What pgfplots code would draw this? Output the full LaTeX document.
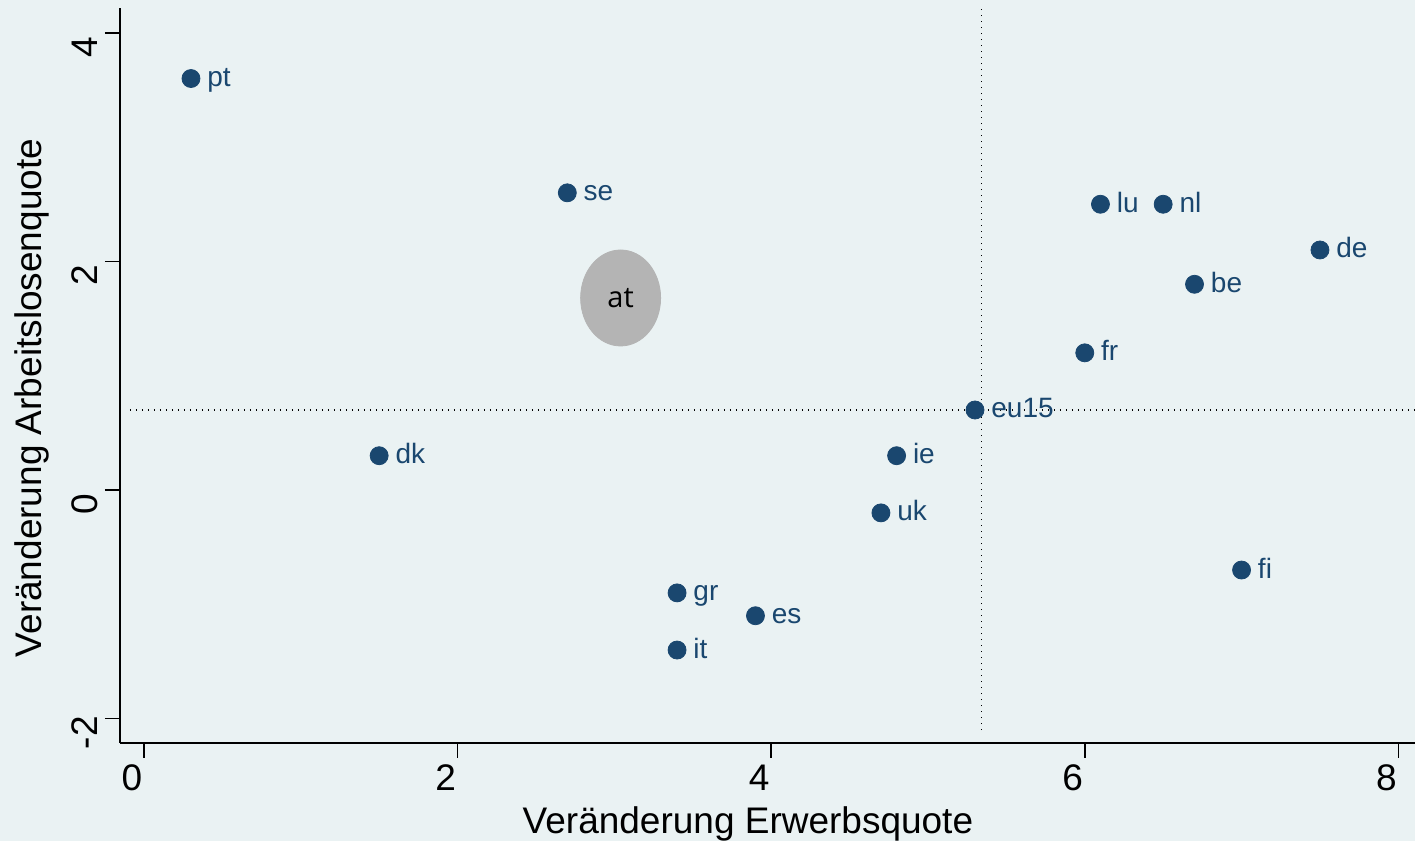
\documentclass[border=0pt]{standalone}
\usepackage{pgfplots}
\pgfplotsset{compat=1.18}
\usepackage{pgfplotstable}
\usepackage{fontspec}
\setmainfont{Liberation Sans}
\newfontfamily\atfont{Open Sans}
\usetikzlibrary{backgrounds}

\definecolor{bg}{RGB}{234,242,243}
\definecolor{stnavy}{RGB}{26,71,111}
\definecolor{atgray}{RGB}{180,180,180}

% Veraenderung Erwerbsquote (x) und Arbeitslosenquote (y)
\pgfplotstableread{
x    y     lab
0.3  3.6   pt
2.7  2.6   se
6.1  2.5   lu
6.5  2.5   nl
7.5  2.1   de
6.7  1.8   be
6.0  1.2   fr
5.3  0.7   eu15
1.5  0.3   dk
4.8  0.3   ie
4.7  -0.2  uk
7.0  -0.7  fi
3.4  -0.9  gr
3.9  -1.1  es
3.4  -1.4  it
}\laender

\begin{document}
\begin{tikzpicture}
\begin{axis}[
    x=78.4pt, y=57.15pt,
    xmin=-0.153, xmax=8.2,
    ymin=-2.213, ymax=4.217,
    axis x line=bottom, axis y line=left,
    axis line style={-, line width=0.9pt, black},
    tick align=outside,
    major tick length=7.5pt,
    tick style={line width=0.8pt, black},
    xtick={0,2,4,6,8}, ytick={-2,0,2,4},
    xticklabels={0,2,4,6,8}, yticklabels={-2,0,2,4},
    ticklabel style={font=\fontsize{18.5}{20}\selectfont},
    xticklabel style={xshift=-6pt},
    yticklabel style={yshift=-7pt, rotate=90, anchor=south},
    xlabel={Veränderung Erwerbsquote},
    ylabel={Veränderung Arbeitslosenquote},
    label style={font=\fontsize{18.5}{20}\selectfont},
    xlabel style={at={(axis cs:3.852,-3.001)}, anchor=base},
    ylabel style={at={(axis cs:-0.714,0.805)}, anchor=center, rotate=0},
    clip=false,
]
\coordinate (pgTL) at (axis cs:-0.918,4.287);
\coordinate (pgBR) at (axis cs:8.106,-3.071);

\addplot[black, line width=0.7pt, dash pattern=on 0.7pt off 2.3pt]
    coordinates {(5.34,-2.1) (5.34,4.21)};
\addplot[black, line width=0.7pt, dash pattern=on 0.7pt off 2.3pt]
    coordinates {(-0.09,0.7) (8.2,0.7)};

\addplot[stnavy, only marks, mark=*, mark size=4.5pt,
    mark options={fill=stnavy, draw=none},
    nodes near coords, point meta=explicit symbolic,
    nodes near coords style={anchor=base west, inner sep=0pt,
        xshift=8pt, yshift=-4pt, text=stnavy,
        font=\fontsize{14}{16}\selectfont}]
    table[x=x, y=y, meta=lab] {\laender};

\addplot[atgray, only marks, mark=*, mark size=20pt,
    mark options={fill=atgray, draw=none, yscale=1.2},
    nodes near coords, point meta=explicit symbolic,
    nodes near coords style={anchor=center, inner sep=0pt, text=black,
        font=\atfont\fontsize{14.5}{16}\selectfont}]
    coordinates {(3.04,1.68) [at]};
\end{axis}
\begin{pgfonlayer}{background}
\fill[bg] (pgTL) rectangle (pgBR);
\end{pgfonlayer}
\pgfresetboundingbox
\path[use as bounding box] (pgTL) rectangle (pgBR);
\end{tikzpicture}
\end{document}
